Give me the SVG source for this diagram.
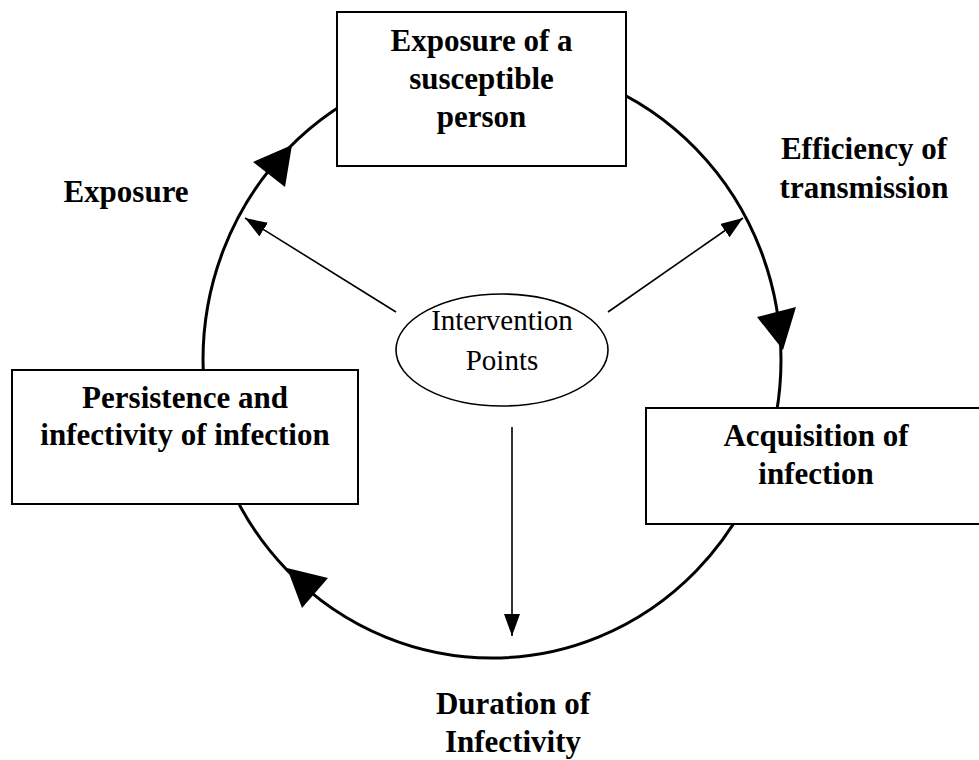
<svg xmlns="http://www.w3.org/2000/svg" width="979" height="760" viewBox="0 0 979 760">
  <defs>
    <style>
      .box { fill: #fff; stroke: #000; stroke-width: 2; }
      .lbl { font-family: "Liberation Serif", "Times New Roman", serif; font-weight: bold; font-size: 31px; fill: #000; text-anchor: middle; }
      .reg { font-family: "Liberation Serif", "Times New Roman", serif; font-size: 29px; fill: #000; text-anchor: middle; }
      .cycle { fill: none; stroke: #000; stroke-width: 3; }
      .ptr { fill: none; stroke: #000; stroke-width: 1.6; }
      .head { fill: #000; stroke: none; }
    </style>
    <marker id="arr" markerUnits="userSpaceOnUse" markerWidth="24" markerHeight="18" refX="22" refY="8" orient="auto">
      <path d="M0,0 L22,8 L0,16 Z" fill="#000"/>
    </marker>
  </defs>
  <rect width="979" height="760" fill="#fff"/>

  <g id="connectors">
    <ellipse class="cycle" cx="492" cy="360" rx="289" ry="298"/>
    <polygon class="head" points="292,145 253,162 285,187"/>
    <polygon class="head" points="783,350 757,317 796,307"/>
    <polygon class="head" points="287,568 328,578 302,608"/>
    <line class="ptr" x1="396" y1="312" x2="245" y2="218" marker-end="url(#arr)"/>
    <line class="ptr" x1="608" y1="312" x2="743" y2="218" marker-end="url(#arr)"/>
    <line class="ptr" x1="512" y1="427" x2="512" y2="636" marker-end="url(#arr)"/>
  </g>

  <g id="node-exposure-person">
    <rect class="box" x="337" y="12" width="289" height="154"/>
    <text class="lbl" x="481.5" y="51">Exposure of a</text>
    <text class="lbl" x="481.5" y="89">susceptible</text>
    <text class="lbl" x="481.5" y="127">person</text>
  </g>

  <g id="node-persistence">
    <rect class="box" x="12" y="370" width="346" height="134"/>
    <text class="lbl" x="185" y="408">Persistence and</text>
    <text class="lbl" x="185" y="445">infectivity of infection</text>
  </g>

  <g id="node-acquisition">
    <rect class="box" x="646" y="408" width="345" height="116"/>
    <text class="lbl" x="816" y="446">Acquisition of</text>
    <text class="lbl" x="816" y="484">infection</text>
  </g>

  <g id="node-intervention">
    <ellipse fill="#fff" stroke="#000" stroke-width="1.6" cx="502" cy="350" rx="106" ry="56"/>
    <text class="reg" x="502" y="330">Intervention</text>
    <text class="reg" x="502" y="370">Points</text>
  </g>

  <g id="label-exposure">
    <text class="lbl" x="126" y="202">Exposure</text>
  </g>
  <g id="label-efficiency">
    <text class="lbl" x="864" y="159">Efficiency of</text>
    <text class="lbl" x="864" y="198">transmission</text>
  </g>
  <g id="label-duration">
    <text class="lbl" x="513" y="714">Duration of</text>
    <text class="lbl" x="513" y="752">Infectivity</text>
  </g>
</svg>
